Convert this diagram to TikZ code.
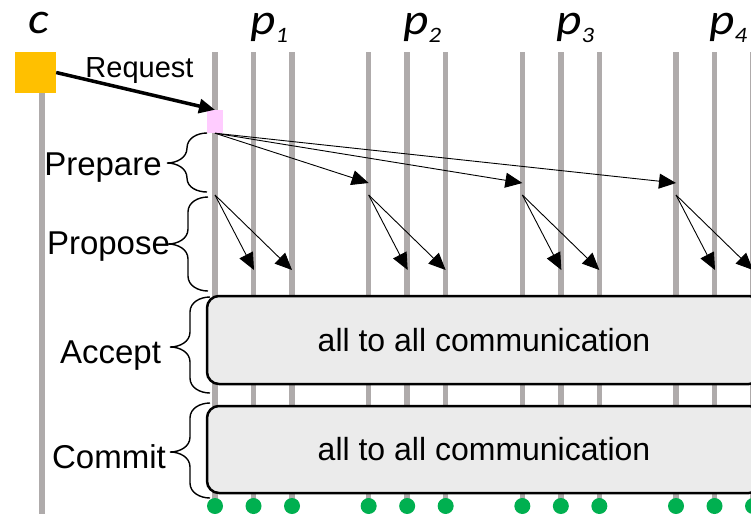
\documentclass[tikz,border=0pt]{standalone}
\usepackage{fontspec}
\setmainfont{Liberation Sans}
\newfontfamily\calib[FakeStretch=1.12]{Carlito}
\usetikzlibrary{arrows.meta}
\definecolor{lifegray}{HTML}{AFABAB}
\definecolor{clientc}{HTML}{FFC000}
\definecolor{leaderc}{HTML}{FFCCFF}
\definecolor{boxc}{HTML}{EBEBEB}
\definecolor{donec}{HTML}{00B050}

\begin{document}
\begin{tikzpicture}[x=1pt,y=-1pt,
  life/.style={draw=lifegray,line width=5.5pt},
  msg/.style={-{Triangle[length=17pt,width=15pt]},line width=0.9pt},
  brc/.style={line width=1.4pt},
  phase/.style={font=\fontsize{33}{36}\selectfont,anchor=base},
  proc/.style={font={\calib\itshape\fontsize{44}{48}\selectfont},anchor=base west,inner sep=0pt},
  allbox/.style={draw,line width=2.5pt,rounded corners=12pt,fill=boxc,minimum width=554pt,font=\fontsize{32}{36}\selectfont}]
\useasboundingbox (0,0) rectangle (751,514);
\clip (0,0) rectangle (751,514);
% life lines
\draw[life] (42,93) -- (42,514);
\foreach \g in {0,...,3}
  \foreach \k in {0,1,2}
    \draw[life] (215+153.67*\g+38.5*\k,52) -- ++(0,448);
% client and leader
\node[fill=clientc,minimum size=41pt,inner sep=0pt] (cl) at (35.5,72.5) {};
\node[fill=leaderc,minimum width=16pt,minimum height=23pt,inner sep=0pt] (ld) at (215,121.5) {};
\node[anchor=base,inner sep=0pt,font={\calib\itshape\fontsize{44}{48}\selectfont}] (lc) at (39,33) {c};
\foreach \g/\n in {0/1,1/2,2/3,3/4}
  \node[proc] (p\n) at (250+153*\g,34) {p\raisebox{-8pt}{\fontsize{22}{24}\selectfont\n}};
\draw[line width=3.5pt,-{Triangle[length=16pt,width=14pt]}] (cl.east) -- (ld.north);
\node[font=\fontsize{29}{32}\selectfont,anchor=base] (req) at (139.5,77) {Request};
% prepare
\foreach \g in {1,2,3} {
  \coordinate (t\g) at (215+153.67*\g,183);
  \draw[msg] (ld.south) -- (t\g);
}
% propose
\foreach \g in {0,...,3} {
  \coordinate (s\g) at (215+153.67*\g,195);
  \coordinate (a\g) at (254+153.67*\g,270);
  \coordinate (b\g) at (292+153.67*\g,270);
  \draw[msg] (s\g) -- (a\g);
  \draw[msg] (s\g) -- (b\g);
}
% braces
\draw[brc] (207,133) to[out=180,in=90] (187,148) to[out=-90,in=0] (167,163)
  to[out=0,in=90] (187,178) to[out=-90,in=180] (207,192);
\draw[brc] (208,197) to[out=180,in=90] (188,212) -- (188,229) to[out=-90,in=0] (168,244)
  to[out=0,in=90] (188,259) -- (188,276) to[out=-90,in=180] (208,291);
\draw[brc] (210,297) to[out=180,in=90] (190,312) -- (190,332) to[out=-90,in=0] (170,347)
  to[out=0,in=90] (190,362) -- (190,378) to[out=-90,in=180] (210,393);
\draw[brc] (210,403) to[out=180,in=90] (190,418) -- (190,437) to[out=-90,in=0] (170,452)
  to[out=0,in=90] (190,467) -- (190,483) to[out=-90,in=180] (210,498);
\node[phase] (prep) at (103,175) {Prepare};
\node[phase] (prop) at (108.5,254) {Propose};
\node[phase] (acpt) at (110.5,363) {Accept};
\node[phase] (cmt) at (109,468) {Commit};
% all to all
\node[allbox,minimum height=88pt] (acc) at (484,340) {all to all communication};
\node[allbox,minimum height=87pt] (com) at (484,449.5) {all to all communication};
% done
\foreach \g in {0,...,3}
  \foreach \k in {0,1,2}
    \fill[donec] (215+153.67*\g+38.5*\k,506) circle (8pt);
\end{tikzpicture}
\end{document}
